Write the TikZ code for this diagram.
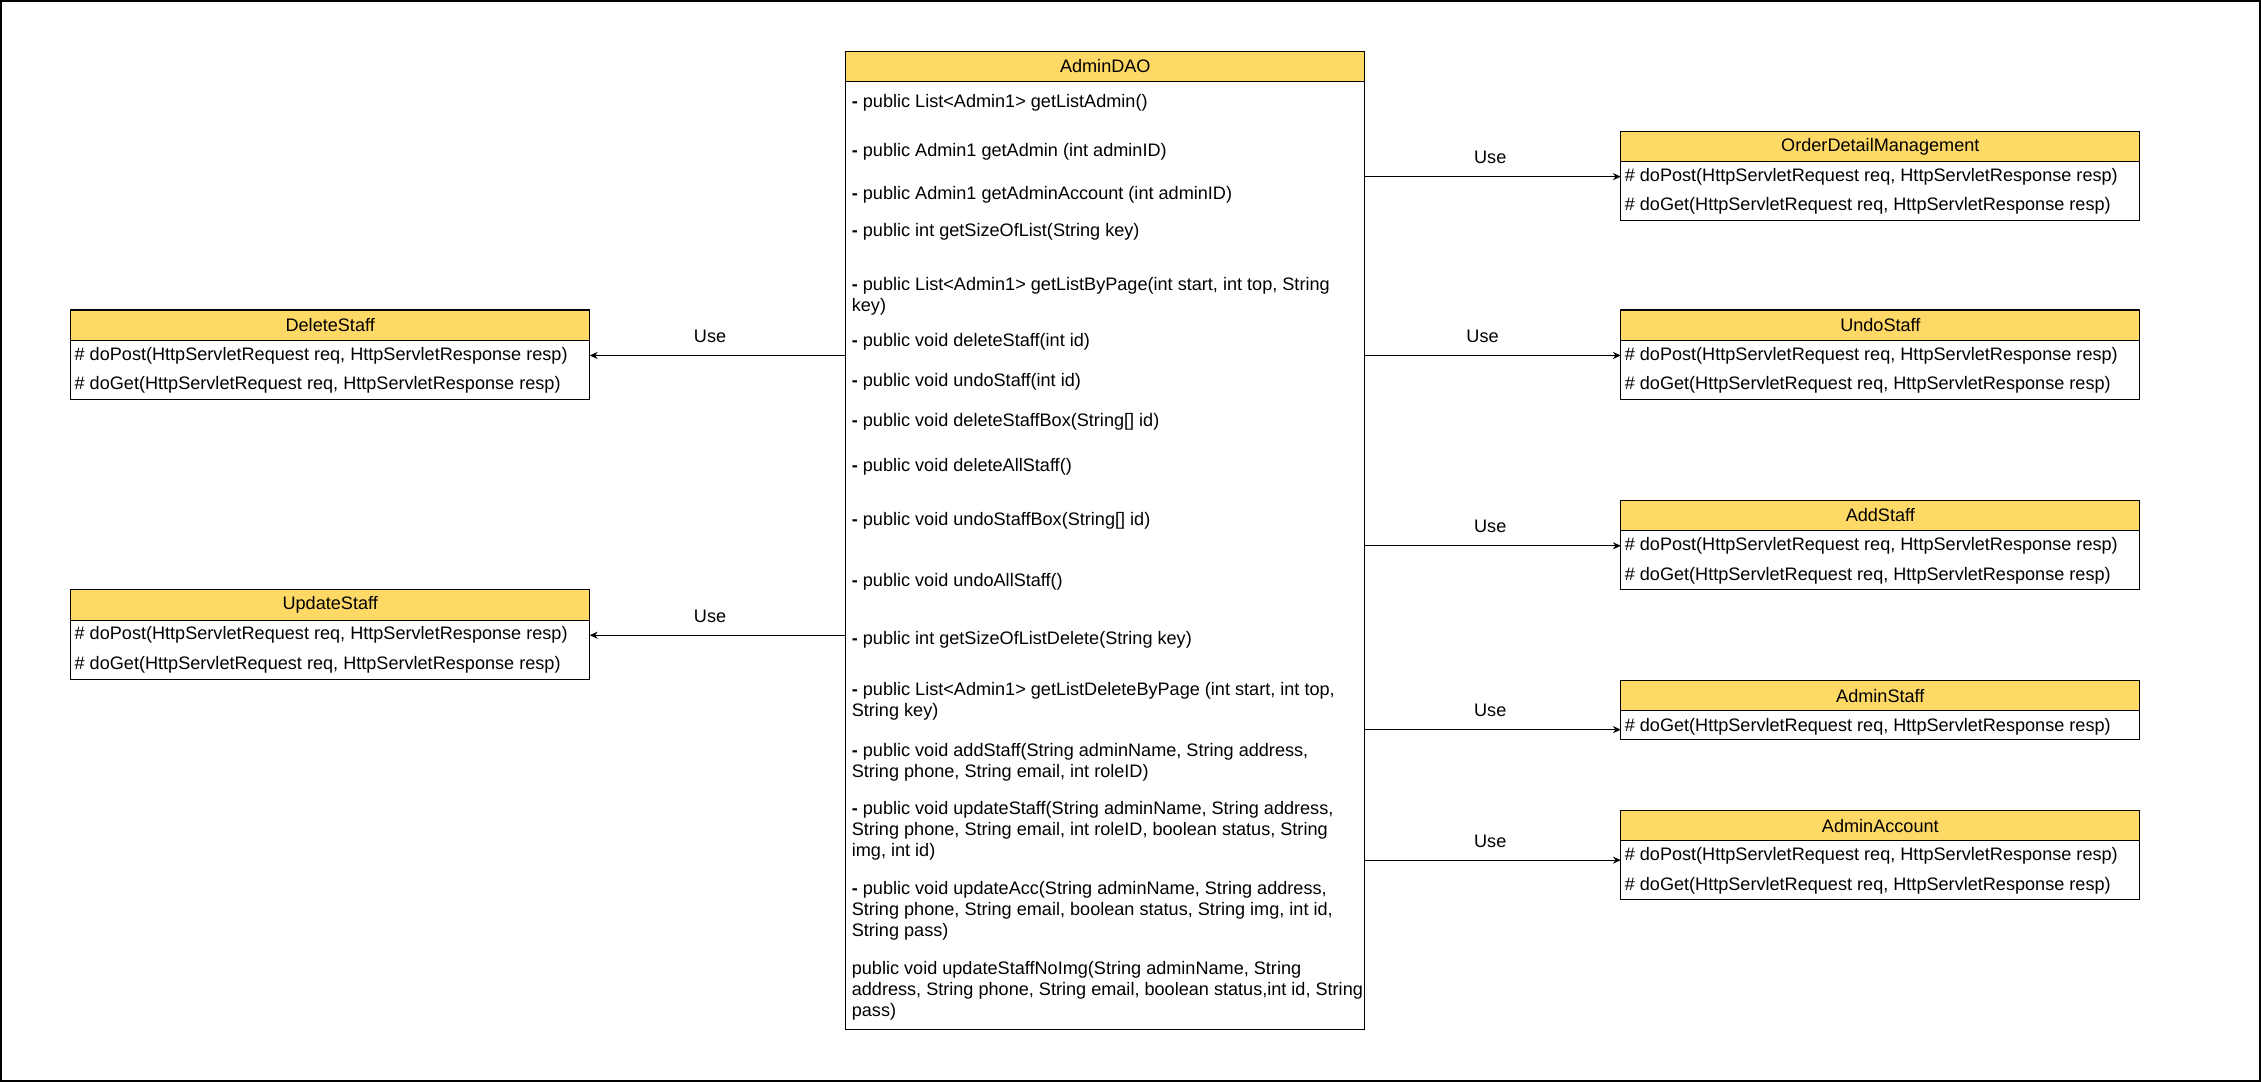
\documentclass[tikz,border=0pt]{standalone}
\usepackage{fontspec}
\setmainfont{Liberation Sans}
\usepackage{tikz}
\usetikzlibrary{arrows.meta,positioning,calc}
\definecolor{headcolor}{HTML}{FFD966}

\begin{document}
\begin{tikzpicture}[
    x=0.02884cm, y=-0.02884cm,
    every node/.style={font=\fontsize{10.3pt}{11.9pt}\selectfont},
    classhead/.style={rectangle, draw, fill=headcolor, minimum width=10.38cm,
    minimum height=0.606cm, inner sep=0pt, outer sep=0pt, line width=0.6pt},
    classbody/.style={rectangle, draw, fill=white, minimum width=10.38cm,
    inner sep=0pt, outer sep=0pt, line width=0.6pt},
    row/.style={anchor=west, inner sep=0pt},
    method/.style={anchor=west, inner sep=0pt, align=left},
    uselbl/.style={inner sep=0pt, yshift=0.38cm},
    arrow/.style={-{Stealth[length=4.5pt, width=4pt]}, line width=0.6pt}
]
\useasboundingbox (0,0) rectangle (1568,750);
\draw[line width=1pt] (0.6,0.6) rectangle (1567.4,749.4);

% AdminDAO
\node[classhead] (dao) at (766.5,46) {AdminDAO};
\node[classbody, below=0pt of dao, minimum height=18.96cm] (dao-b) {};
\node[method] (m1) at (590.5,71) {\textbf{-} public List<Admin1> getListAdmin()};
\node[method] (m2) at (590.5,105.5) {\textbf{-} public Admin1 getAdmin (int adminID)};
\node[method] (m3) at (590.5,135) {\textbf{-} public Admin1 getAdminAccount (int adminID)};
\node[method] (m4) at (590.5,160.5) {\textbf{-} public int getSizeOfList(String key)};
\node[method] (m5) at (590.5,205.3) {\textbf{-} public List<Admin1> getListByPage(int start, int top, String\\key)};
\node[method] (m6) at (590.5,237) {\textbf{-} public void deleteStaff(int id)};
\node[method] (m7) at (590.5,264.5) {\textbf{-} public void undoStaff(int id)};
\node[method] (m8) at (590.5,292.3) {\textbf{-} public void deleteStaffBox(String[] id)};
\node[method] (m9) at (590.5,323.5) {\textbf{-} public void deleteAllStaff()};
\node[method] (m10) at (590.5,361.1) {\textbf{-} public void undoStaffBox(String[] id)};
\node[method] (m11) at (590.5,403.2) {\textbf{-} public void undoAllStaff()};
\node[method] (m12) at (590.5,444) {\textbf{-} public int getSizeOfListDelete(String key)};
\node[method] (m13) at (590.5,486.5) {\textbf{-} public List<Admin1> getListDeleteByPage (int start, int top,\\String key)};
\node[method] (m14) at (590.5,528.6) {\textbf{-} public void addStaff(String adminName, String address,\\String phone, String email, int roleID)};
\node[method] (m15) at (590.5,576.4) {\textbf{-} public void updateStaff(String adminName, String address,\\String phone, String email, int roleID, boolean status, String\\img, int id)};
\node[method] (m16) at (590.5,631.8) {\textbf{-} public void updateAcc(String adminName, String address,\\String phone, String email, boolean status, String img, int id,\\String pass)};
\node[method] (m17) at (590.5,687.3) {public void updateStaffNoImg(String adminName, String\\address, String phone, String email, boolean status,int id, String\\pass)};

% left side
\node[classhead] (ds) at (229,225.5) {DeleteStaff};
\node[classbody, below=0pt of ds, minimum height=1.182cm] (ds-b) {};
\node[row] (ds-1) at ([shift={(2.5,10.5)}]ds-b.north west) {\# doPost(HttpServletRequest req, HttpServletResponse resp)};
\node[row] (ds-2) at ([shift={(2.5,31)}]ds-b.north west) {\# doGet(HttpServletRequest req, HttpServletResponse resp)};

\node[classhead] (us) at (229,419.5) {UpdateStaff};
\node[classbody, below=0pt of us, minimum height=1.182cm] (us-b) {};
\node[row] (us-1) at ([shift={(2.5,10.5)}]us-b.north west) {\# doPost(HttpServletRequest req, HttpServletResponse resp)};
\node[row] (us-2) at ([shift={(2.5,31)}]us-b.north west) {\# doGet(HttpServletRequest req, HttpServletResponse resp)};

% right side
\node[classhead] (odm) at (1304,101.5) {OrderDetailManagement};
\node[classbody, below=0pt of odm, minimum height=1.182cm] (odm-b) {};
\node[row] (odm-1) at ([shift={(2.5,10.5)}]odm-b.north west) {\# doPost(HttpServletRequest req, HttpServletResponse resp)};
\node[row] (odm-2) at ([shift={(2.5,31)}]odm-b.north west) {\# doGet(HttpServletRequest req, HttpServletResponse resp)};

\node[classhead] (undo) at (1304,225.5) {UndoStaff};
\node[classbody, below=0pt of undo, minimum height=1.182cm] (undo-b) {};
\node[row] (undo-1) at ([shift={(2.5,10.5)}]undo-b.north west) {\# doPost(HttpServletRequest req, HttpServletResponse resp)};
\node[row] (undo-2) at ([shift={(2.5,31)}]undo-b.north west) {\# doGet(HttpServletRequest req, HttpServletResponse resp)};

\node[classhead] (add) at (1304,357.5) {AddStaff};
\node[classbody, below=0pt of add, minimum height=1.182cm] (add-b) {};
\node[row] (add-1) at ([shift={(2.5,10.5)}]add-b.north west) {\# doPost(HttpServletRequest req, HttpServletResponse resp)};
\node[row] (add-2) at ([shift={(2.5,31)}]add-b.north west) {\# doGet(HttpServletRequest req, HttpServletResponse resp)};

\node[classhead] (ast) at (1304,482.5) {AdminStaff};
\node[classbody, below=0pt of ast, minimum height=0.577cm] (ast-b) {};
\node[row] (ast-1) at ([shift={(2.5,11)}]ast-b.north west) {\# doGet(HttpServletRequest req, HttpServletResponse resp)};

\node[classhead] (aac) at (1304,572.5) {AdminAccount};
\node[classbody, below=0pt of aac, minimum height=1.182cm] (aac-b) {};
\node[row] (aac-1) at ([shift={(2.5,10.5)}]aac-b.north west) {\# doPost(HttpServletRequest req, HttpServletResponse resp)};
\node[row] (aac-2) at ([shift={(2.5,31)}]aac-b.north west) {\# doGet(HttpServletRequest req, HttpServletResponse resp)};

% connectors
\draw[arrow] (dao-b.west |- ds-1) -- (ds-b.east |- ds-1) node[uselbl, pos=.53] {Use};
\draw[arrow] (dao-b.west |- us-1) -- (us-b.east |- us-1) node[uselbl, pos=.53] {Use};
\draw[arrow] (dao-b.east |- odm-1) -- (odm-b.west |- odm-1) node[uselbl, pos=.49] {Use};
\draw[arrow] (dao-b.east |- undo-1) -- (undo-b.west |- undo-1) node[uselbl, pos=.46] {Use};
\draw[arrow] (dao-b.east |- add-1) -- (add-b.west |- add-1) node[uselbl, pos=.49] {Use};
\draw[arrow] ($(dao-b.east |- ast-1)+(0,2)$) -- ($(ast-b.west |- ast-1)+(0,2)$) node[uselbl, pos=.49] {Use};
\draw[arrow] ($(dao-b.east |- aac-1)+(0,3)$) -- ($(aac-b.west |- aac-1)+(0,3)$) node[uselbl, pos=.49] {Use};
\end{tikzpicture}
\end{document}
